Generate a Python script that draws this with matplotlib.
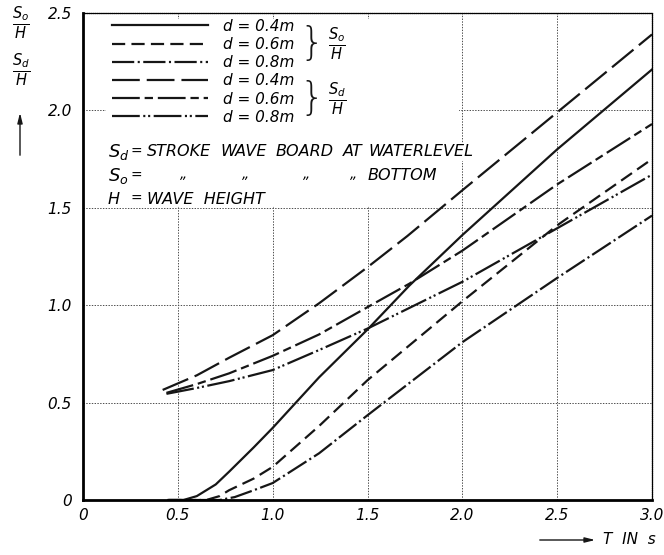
import matplotlib
matplotlib.use('Agg')
import matplotlib.pyplot as plt
from matplotlib.patches import Rectangle

# S_o / H  (stroke at bottom)
x_so04 = [0.45, 0.53, 0.60, 0.70, 0.77, 0.90, 1.00, 1.245, 1.50, 1.72, 2.00, 2.50, 3.00]
y_so04 = [0.00, 0.00, 0.02, 0.08, 0.145, 0.27, 0.37, 0.63, 0.875, 1.10, 1.36, 1.80, 2.21]
x_so06 = [0.45, 0.65, 0.72, 0.77, 0.90, 1.00, 1.245, 1.50, 2.00, 2.50, 3.00]
y_so06 = [0.00, 0.00, 0.02, 0.05, 0.11, 0.17, 0.38, 0.615, 1.02, 1.41, 1.75]
x_so08 = [0.45, 0.72, 0.80, 0.90, 1.00, 1.245, 1.50, 2.00, 2.50, 3.00]
y_so08 = [0.00, 0.00, 0.015, 0.05, 0.087, 0.24, 0.435, 0.81, 1.14, 1.46]

# S_d / H  (stroke at waterlevel)
x_sd04 = [0.42, 0.60, 0.77, 1.00, 1.245, 1.50, 1.71, 2.00, 2.50, 3.00]
y_sd04 = [0.565, 0.64, 0.73, 0.846, 1.01, 1.195, 1.355, 1.59, 1.99, 2.39]
x_sd06 = [0.44, 0.60, 0.77, 1.00, 1.245, 1.50, 1.72, 2.00, 2.50, 3.00]
y_sd06 = [0.55, 0.595, 0.65, 0.74, 0.85, 0.99, 1.11, 1.28, 1.62, 1.93]
x_sd08 = [0.44, 0.60, 0.77, 1.00, 1.245, 1.50, 2.00, 2.50, 3.00]
y_sd08 = [0.545, 0.575, 0.61, 0.667, 0.77, 0.88, 1.12, 1.395, 1.67]

labels = ['d = 0.4m', 'd = 0.6m', 'd = 0.8m', 'd = 0.4m', 'd = 0.6m', 'd = 0.8m']
xticks = [0, 0.5, 1.0, 1.5, 2.0, 2.5, 3.0]
xlabels = ['0', '0.5', '1.0', '1.5', '2.0', '2.5', '3.0']
yticks = [0, 0.5, 1.0, 1.5, 2.0, 2.5]
ylabels = ['0', '0.5', '1.0', '1.5', '2.0', '2.5']

plt.rcParams['font.family'] = ['DejaVu Sans']
plt.rcParams['mathtext.fontset'] = 'dejavusans'
plt.rcParams['lines.scale_dashes'] = False

W, H = 664, 555
fig = plt.figure(figsize=(6.64, 5.55), dpi=100)
ax = fig.add_axes([83 / W, 1 - 500 / H, 569 / W, 487 / H])

ink = '#161616'
lw = 1.6
h1, = ax.plot(x_so04, y_so04, color=ink, lw=lw, linestyle='-')
h2, = ax.plot(x_so06, y_so06, color=ink, lw=lw, linestyle=(0, (9.5, 4.5)))
h3, = ax.plot(x_so08, y_so08, color=ink, lw=lw, linestyle=(0, (16, 2.5, 1.5, 2.5)))
h4, = ax.plot(x_sd04, y_sd04, color=ink, lw=lw, linestyle=(0, (20, 5)))
h5, = ax.plot(x_sd06, y_sd06, color=ink, lw=lw, linestyle=(0, (20, 3.5, 6, 3.5)))
h6, = ax.plot(x_sd08, y_sd08, color=ink, lw=lw, linestyle=(0, (20, 2.5, 1.5, 2, 1.5, 2.5)))

ax.set_xlim(0, 3.0)
ax.set_ylim(0, 2.5)
ax.set_xticks(xticks)
ax.set_xticklabels(xlabels, fontstyle='italic', fontsize=11)
ax.set_yticks(yticks)
ax.set_yticklabels(ylabels, fontstyle='italic', fontsize=11)
ax.tick_params(length=0, pad=6)
ax.tick_params(axis='y', pad=8)
ax.set_axisbelow(True)
ax.grid(True, color='0.3', lw=0.7, linestyle=(0, (1, 1)))

for side in ['left', 'bottom']:
    ax.spines[side].set_linewidth(2.0)
for side in ['top', 'right']:
    ax.spines[side].set_linewidth(0.9)
    ax.spines[side].set_linestyle((0, (1, 0.5)))

# white area behind the key
ax.add_patch(Rectangle((0.12, 1.51), 1.86, 0.96, facecolor='white', edgecolor='none', zorder=1.2))

leg = ax.legend([h1, h2, h3, h4, h5, h6], labels, loc='upper left',
                bbox_to_anchor=(0.037, 1.004), frameon=False, borderpad=0,
                handlelength=6.3, handletextpad=1.0, labelspacing=0.21,
                prop={'style': 'italic', 'size': 11})
leg.set_zorder(5)


def px(x, y):
    return x / W, 1 - y / H


# braces and fractions of the key
fig.text(*px(312, 44), '}', fontsize=28, fontweight='light', va='center', ha='center', color=ink)
fig.text(*px(312, 99), '}', fontsize=28, fontweight='light', va='center', ha='center', color=ink)
fig.text(*px(328, 44), r'$\frac{S_o}{H}$', fontsize=15, va='center', ha='left')
fig.text(*px(328, 99), r'$\frac{S_d}{H}$', fontsize=15, va='center', ha='left')

# explanation lines
rows = [152, 176, 199]
fig.text(*px(108, rows[0]), r'$S_d$', fontsize=13, va='center')
fig.text(*px(130, rows[0]), '=', fontsize=10, va='center')
for word, xp in [('STROKE', 147), ('WAVE', 220), ('BOARD', 276), ('AT', 343), ('WATERLEVEL', 368)]:
    fig.text(*px(xp, rows[0]), word, fontsize=11.5, fontstyle='italic', va='center',
             bbox=dict(facecolor='white', edgecolor='none', pad=1))
fig.text(*px(108, rows[1]), r'$S_o$', fontsize=13, va='center')
fig.text(*px(130, rows[1]), '=', fontsize=10, va='center')
for xp in [180, 242, 303, 350]:
    fig.text(*px(xp, rows[1] - 2), '\u201e', fontsize=10, fontstyle='italic', va='center')
fig.text(*px(368, rows[1]), 'BOTTOM', fontsize=11.5, fontstyle='italic', va='center',
         bbox=dict(facecolor='white', edgecolor='none', pad=1))
fig.text(*px(108, rows[2]), 'H', fontsize=11.5, fontstyle='italic', va='center')
fig.text(*px(130, rows[2]), '=', fontsize=10, va='center')
fig.text(*px(147, rows[2]), 'WAVE  HEIGHT', fontsize=11.5, fontstyle='italic', va='center')

# axis labels with arrows
fig.text(*px(21, 23), r'$\frac{S_o}{H}$', fontsize=15, va='center', ha='center')
fig.text(*px(21, 70), r'$\frac{S_d}{H}$', fontsize=15, va='center', ha='center')
ax.annotate('', xy=(20, H - 110), xytext=(20, H - 158), xycoords='figure pixels',
            textcoords='figure pixels',
            arrowprops=dict(arrowstyle='-|>,head_length=0.6,head_width=0.15', color=ink, lw=1))
ax.annotate('', xy=(598, H - 540), xytext=(537, H - 540), xycoords='figure pixels',
            textcoords='figure pixels',
            arrowprops=dict(arrowstyle='-|>,head_length=0.6,head_width=0.15', color=ink, lw=1))
fig.text(*px(603, 540), 'T  IN  s', fontsize=11, fontstyle='italic', va='center')

fig.savefig('out.png', dpi=100)
